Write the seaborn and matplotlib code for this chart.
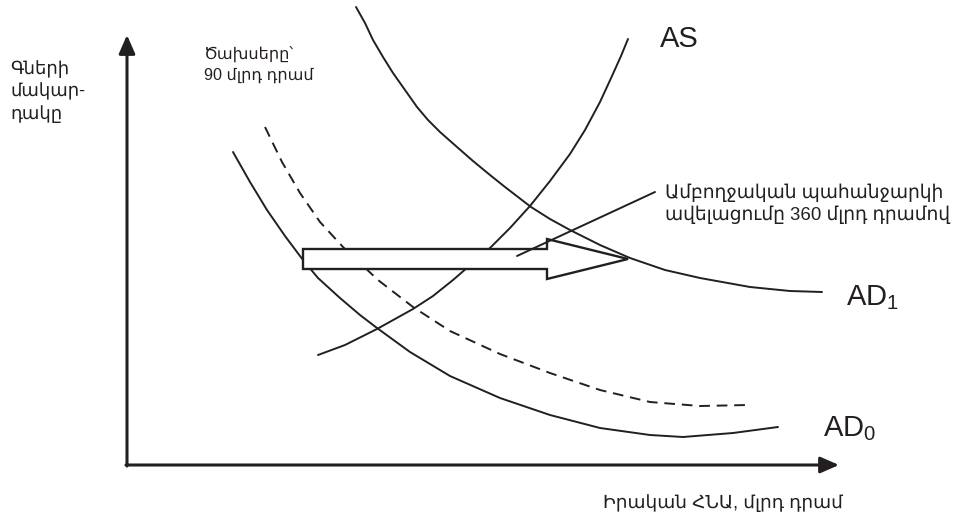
import matplotlib
matplotlib.use('Agg')
import matplotlib.pyplot as plt
import seaborn as sns
import pandas as pd

# curve points (pixel-like units, y grows downward)
as_x = [318, 345, 377, 413, 433, 453, 490, 510, 530, 550, 570, 585, 600, 612, 621, 628]
as_y = [355, 345, 329, 309, 296, 280, 248, 228, 206, 181, 154, 130, 102, 76, 56, 39]

ad1_x = [356, 365, 373, 383, 393, 405, 417, 428, 440, 457, 473, 490, 505, 531,
         550, 570, 600, 630, 665, 700, 750, 790, 822]
ad1_y = [7, 23, 40, 57, 73, 90, 107, 120, 132, 147, 161, 175, 187, 207,
         219, 230, 245, 258, 270, 278, 287, 291, 292]

ad_mid_x = [265, 282, 300, 320, 343, 378, 413, 450, 500, 550, 600, 650, 700, 748]
ad_mid_y = [127, 162, 193, 222, 247, 280, 307, 331, 354, 373, 390, 402, 406, 405]

ad0_x = [233, 250, 267, 285, 303, 318, 340, 360, 377, 410, 450, 500, 550, 600,
         650, 683, 733, 778]
ad0_y = [152, 182, 210, 236, 260, 278, 298, 315, 328, 352, 376, 398, 415, 428,
         435, 437, 433, 427]

# block arrow outline (shift of aggregate demand)
shift_x = [303, 547, 547, 628, 547, 547, 303, 303]
shift_y = [249, 249, 239, 259, 279, 269, 269, 249]

# pointer from annotation to arrow
pointer_x = [517, 655]
pointer_y = [256, 192]

ink = '#231f20'

sns.set_theme(style='white')
plt.rcParams['font.family'] = ['Liberation Sans', 'DejaVu Sans']
plt.rcParams['mathtext.fontset'] = 'custom'
plt.rcParams['mathtext.rm'] = 'Liberation Sans'

fig = plt.figure(figsize=(9.6, 5.18), dpi=100)
ax = fig.add_axes([0, 0, 1, 1])
ax.set_xlim(0, 960)
ax.set_ylim(518, 0)
ax.axis('off')

curves = [(as_x, as_y, '-'), (ad1_x, ad1_y, '-'), (ad0_x, ad0_y, '-'),
          (ad_mid_x, ad_mid_y, (0, (5.5, 3.5)))]
for cx, cy, ls in curves:
    df = pd.DataFrame({'x': cx, 'y': cy})
    sns.lineplot(data=df, x='x', y='y', ax=ax, sort=False, estimator=None,
                 color=ink, linewidth=1.4, linestyle=ls, zorder=2)

ax.fill(shift_x, shift_y, facecolor='white', edgecolor=ink, linewidth=1.7, zorder=3)
sns.lineplot(x=pointer_x, y=pointer_y, ax=ax, sort=False, estimator=None,
             color=ink, linewidth=1.4, zorder=4)

# axes with arrows
arr = dict(arrowstyle='-|>,head_length=0.8,head_width=0.35', color=ink,
           lw=2.2, mutation_scale=14, shrinkA=0, shrinkB=0)
ax.annotate('', xy=(127, 35), xytext=(127, 466), arrowprops=arr)
ax.annotate('', xy=(839, 465), xytext=(126, 465), arrowprops=arr)

ax.set_xlabel('')
ax.set_ylabel('')

ax.text(10, 60, 'Գների\nմակար-\nդակը', va='top', ha='left', fontsize=13,
        linespacing=1.35, color=ink)
ax.text(204, 47, 'Ծախսերը՝\n90 մլրդ դրամ', va='top', ha='left', fontsize=11.6,
        linespacing=1.35, color=ink)
ax.text(660, 47, 'AS', va='baseline', ha='left', fontsize=21, color=ink)
ax.text(665, 184, 'Ամբողջական պահանջարկի\nավելացումը 360 մլրդ դրամով', va='top',
        ha='left', fontsize=13.4, linespacing=1.25, color=ink)
ax.text(846, 305, r'AD$_\mathregular{1}$', va='baseline', ha='left', fontsize=21, color=ink)
ax.text(823, 436, r'AD$_\mathregular{0}$', va='baseline', ha='left', fontsize=21, color=ink)
ax.text(603, 503, 'Իրական ՀՆԱ, մլրդ դրամ', va='center', ha='left', fontsize=13.3,
        color=ink)

fig.savefig('out.png', dpi=100)
